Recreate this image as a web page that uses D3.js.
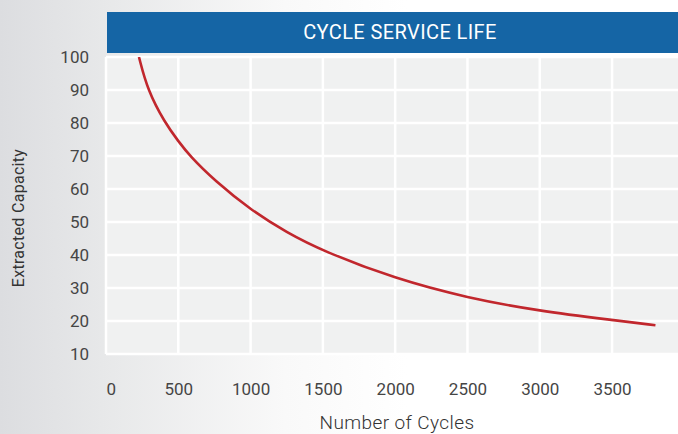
<!DOCTYPE html>
<html>
<head>
<meta charset="utf-8">
<script src="https://cdn.jsdelivr.net/npm/d3@7"></script>
<style>
  html, body { margin: 0; padding: 0; background: #fff; }
  svg { display: block; }
  text { font-family: Roboto, "Open Sans", sans-serif; }
</style>
</head>
<body>
<svg id="chart" width="678" height="434"></svg>
<script>
// ---- data ----
const title = "CYCLE SERVICE LIFE";
const xLabel = "Number of Cycles";
const yLabel = "Extracted Capacity";
const cycles   = [228, 287, 408, 500, 580, 750, 1000, 1250, 1500, 2000, 2500, 3000, 3500, 3800];
const capacity = [100, 90, 80, 74.5, 70, 62.6, 53.7, 46.8, 41.2, 32.8, 27, 23, 20.3, 18.7];
const xTicks = [0, 500, 1000, 1500, 2000, 2500, 3000, 3500];
const yTicks = [10, 20, 30, 40, 50, 60, 70, 80, 90, 100];

// ---- layout ----
const W = 678, H = 434;
const plot = { left: 106, right: 678, top: 57, bottom: 354 };
const svg = d3.select("#chart");

const defs = svg.append("defs");
const grad = defs.append("linearGradient").attr("id", "bg").attr("x1", "0").attr("x2", "1").attr("y1", "0").attr("y2", "0");
grad.append("stop").attr("offset", "0").attr("stop-color", "#dcdde0");
grad.append("stop").attr("offset", "0.15").attr("stop-color", "#e7e8e9");
grad.append("stop").attr("offset", "0.42").attr("stop-color", "#f9f9f9");
grad.append("stop").attr("offset", "0.6").attr("stop-color", "#ffffff");
svg.append("rect").attr("width", W).attr("height", H).attr("fill", "url(#bg)");

defs.append("clipPath").attr("id", "clip").append("rect")
  .attr("x", plot.left).attr("y", plot.top)
  .attr("width", plot.right - plot.left).attr("height", plot.bottom - plot.top);

const x = d3.scaleLinear().domain([0, 3956]).range([plot.left, plot.right]);
const y = d3.scaleLinear().domain([10, 100]).range([plot.bottom, plot.top]);

// plot background
svg.append("rect")
  .attr("x", plot.left).attr("y", plot.top)
  .attr("width", plot.right - plot.left).attr("height", plot.bottom - plot.top)
  .attr("fill", "#f0f1f1");

// grid lines (white)
const grid = svg.append("g").attr("stroke", "#ffffff").attr("stroke-width", 2.5);
grid.selectAll("line.v").data(xTicks).join("line")
  .attr("x1", d => x(d)).attr("x2", d => x(d))
  .attr("y1", plot.top).attr("y2", plot.bottom);
grid.selectAll("line.h").data(yTicks).join("line")
  .attr("x1", plot.left).attr("x2", plot.right)
  .attr("y1", d => y(d)).attr("y2", d => y(d));

// title bar
svg.append("rect").attr("x", 107).attr("y", 12).attr("width", W - 107).attr("height", 41).attr("fill", "#1565a5");
svg.append("text").attr("x", 400).attr("y", 39).attr("text-anchor", "middle")
  .attr("fill", "#ffffff").attr("font-size", 20).attr("letter-spacing", 0.4)
  .text(title);

// y axis labels
const yAxis = d3.axisLeft(y).tickValues(yTicks).tickSize(0).tickPadding(0).tickFormat(d3.format("d"));
const gy = svg.append("g").attr("transform", `translate(89,0)`).call(yAxis);
gy.select(".domain").remove();
gy.selectAll("text").attr("font-size", 17).attr("fill", "#454545").attr("font-family", "Roboto, sans-serif");

// x axis labels
const xAxis = d3.axisBottom(x).tickValues(xTicks).tickSize(0).tickPadding(0).tickFormat(d3.format("d"));
const gx = svg.append("g").attr("transform", `translate(0,383)`).call(xAxis);
gx.select(".domain").remove();
gx.selectAll("text").attr("font-size", 17).attr("fill", "#454545").attr("font-family", "Roboto, sans-serif")
  .attr("text-anchor", d => d === 0 ? "start" : "middle");

// axis titles
svg.append("text").attr("x", 397).attr("y", 429).attr("text-anchor", "middle")
  .attr("font-size", 19).attr("font-weight", 300).attr("fill", "#333").attr("letter-spacing", 0.4)
  .text(xLabel);
svg.append("text").attr("transform", "translate(24,218) rotate(-90)").attr("text-anchor", "middle")
  .attr("font-size", 16).attr("fill", "#333").attr("letter-spacing", 0.3)
  .text(yLabel);

// curve
const pts = cycles.map((c, i) => [c, capacity[i]]);
const line = d3.line().x(d => x(d[0])).y(d => y(d[1])).curve(d3.curveBasis);
svg.append("path").datum(pts)
  .attr("clip-path", "url(#clip)")
  .attr("fill", "none").attr("stroke", "#c1272d").attr("stroke-width", 2.6)
  .attr("stroke-linecap", "butt")
  .attr("d", line);
</script>
</body>
</html>
